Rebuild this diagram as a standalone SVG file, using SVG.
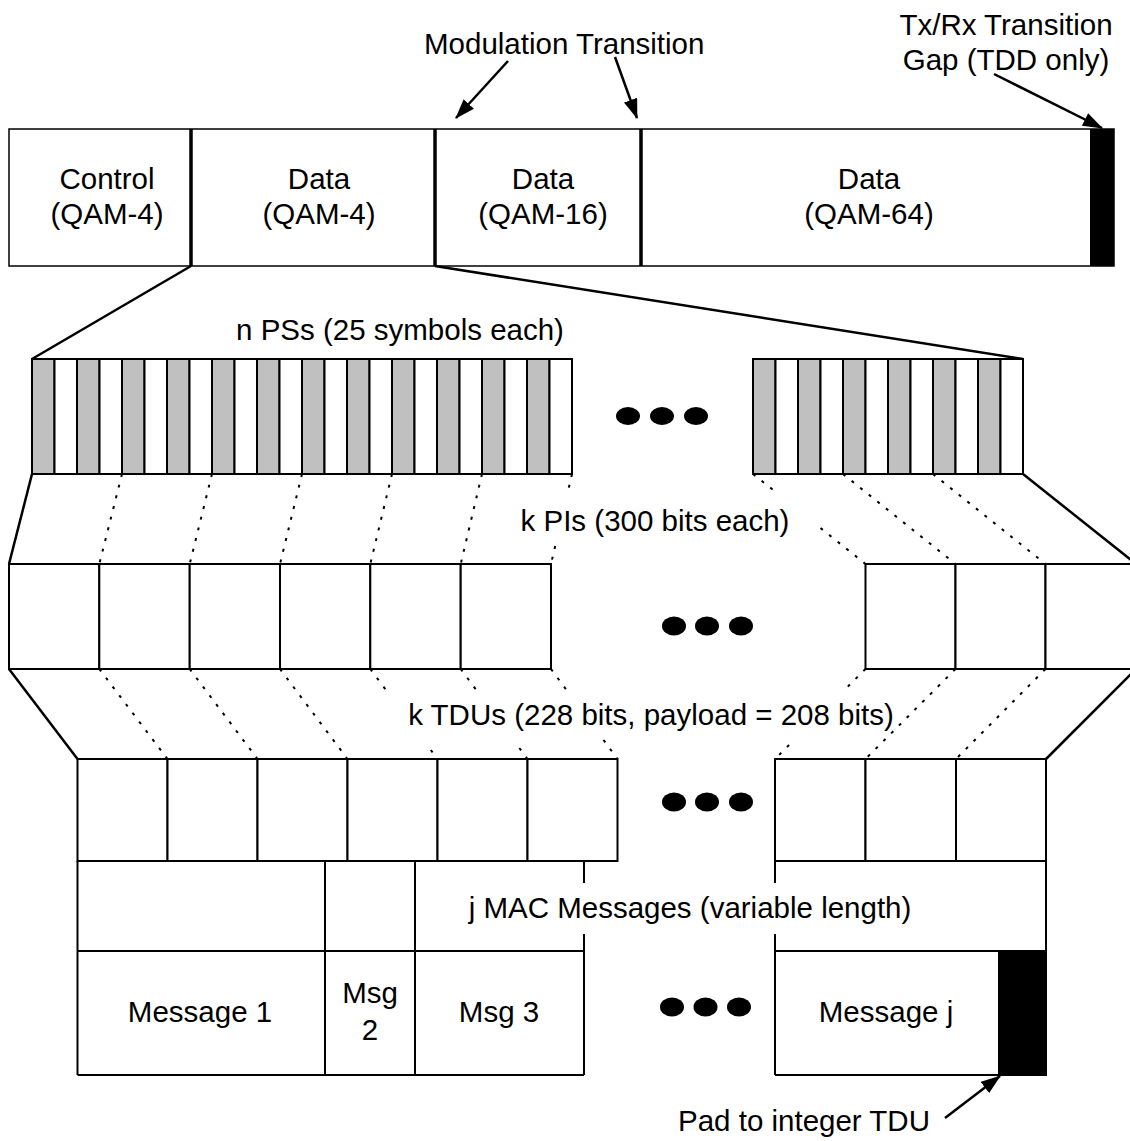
<svg xmlns="http://www.w3.org/2000/svg" width="1130" height="1141" viewBox="0 0 1130 1141">
<style>
  .t { font-family: "Liberation Sans", Arial, sans-serif; font-size: 29.5px; fill: #000; }
  .m { text-anchor: middle; }
  .box { fill: #fff; stroke: #000; stroke-width: 2; }
  .bar { fill: #fff; stroke: #000; stroke-width: 1.5; }
  .g { fill: #c0c0c0; stroke: #000; stroke-width: 2; }
  .w { fill: #fff; stroke: #000; stroke-width: 2; }
  .thick { stroke: #000; stroke-width: 3.5; }
  .ln { stroke: #000; stroke-width: 2; fill: none; }
  .sol { stroke: #000; stroke-width: 2.5; fill: none; }
  .dot { stroke: #000; stroke-width: 2; stroke-dasharray: 3 8; fill: none; }
  .arr { stroke: #000; stroke-width: 2.5; fill: none; marker-end: url(#ah); }
  .blk { fill: #000; }
</style>
<defs>
  <marker id="ah" markerUnits="userSpaceOnUse" markerWidth="20" markerHeight="14" refX="19" refY="7" orient="auto">
    <path d="M0,0 L20,7 L0,14 z" fill="#000"/>
  </marker>
</defs>
<rect width="1130" height="1141" fill="#fff"/>

<!-- Top frame -->
<g id="frame">
  <rect class="bar" x="9" y="129" width="1105" height="137"/>
  <line class="thick" x1="191" y1="129" x2="191" y2="266"/>
  <line class="thick" x1="435" y1="129" x2="435" y2="266"/>
  <line class="thick" x1="641" y1="129" x2="641" y2="266"/>
  <rect class="blk" x="1090" y="129" width="24" height="137"/>
</g>
<g id="control">
  <text class="t m" x="107" y="189">Control</text>
  <text class="t m" x="107" y="224">(QAM-4)</text>
</g>
<g id="data4">
  <text class="t m" x="319" y="189">Data</text>
  <text class="t m" x="319" y="224">(QAM-4)</text>
</g>
<g id="data16">
  <text class="t m" x="543" y="189">Data</text>
  <text class="t m" x="543" y="224">(QAM-16)</text>
</g>
<g id="data64">
  <text class="t m" x="869" y="189">Data</text>
  <text class="t m" x="869" y="224">(QAM-64)</text>
</g>
<g id="label-modulation">
  <text class="t" x="424" y="54">Modulation Transition</text>
</g>
<g id="label-gap">
  <text class="t m" x="1006" y="35">Tx/Rx Transition</text>
  <text class="t m" x="1006" y="70">Gap (TDD only)</text>
</g>

<!-- PS row -->
<g id="ps-left">
  <rect class="g" x="32" y="359" width="22.5" height="115"/>
  <rect class="w" x="54.5" y="359" width="22.5" height="115"/>
  <rect class="g" x="77" y="359" width="22.5" height="115"/>
  <rect class="w" x="99.5" y="359" width="22.5" height="115"/>
  <rect class="g" x="122" y="359" width="22.5" height="115"/>
  <rect class="w" x="144.5" y="359" width="22.5" height="115"/>
  <rect class="g" x="167" y="359" width="22.5" height="115"/>
  <rect class="w" x="189.5" y="359" width="22.5" height="115"/>
  <rect class="g" x="212" y="359" width="22.5" height="115"/>
  <rect class="w" x="234.5" y="359" width="22.5" height="115"/>
  <rect class="g" x="257" y="359" width="22.5" height="115"/>
  <rect class="w" x="279.5" y="359" width="22.5" height="115"/>
  <rect class="g" x="302" y="359" width="22.5" height="115"/>
  <rect class="w" x="324.5" y="359" width="22.5" height="115"/>
  <rect class="g" x="347" y="359" width="22.5" height="115"/>
  <rect class="w" x="369.5" y="359" width="22.5" height="115"/>
  <rect class="g" x="392" y="359" width="22.5" height="115"/>
  <rect class="w" x="414.5" y="359" width="22.5" height="115"/>
  <rect class="g" x="437" y="359" width="22.5" height="115"/>
  <rect class="w" x="459.5" y="359" width="22.5" height="115"/>
  <rect class="g" x="482" y="359" width="22.5" height="115"/>
  <rect class="w" x="504.5" y="359" width="22.5" height="115"/>
  <rect class="g" x="527" y="359" width="22.5" height="115"/>
  <rect class="w" x="549.5" y="359" width="22.5" height="115"/>
</g>
<g id="ps-right">
  <rect class="g" x="753" y="359" width="22.5" height="115"/>
  <rect class="w" x="775.5" y="359" width="22.5" height="115"/>
  <rect class="g" x="798" y="359" width="22.5" height="115"/>
  <rect class="w" x="820.5" y="359" width="22.5" height="115"/>
  <rect class="g" x="843" y="359" width="22.5" height="115"/>
  <rect class="w" x="865.5" y="359" width="22.5" height="115"/>
  <rect class="g" x="888" y="359" width="22.5" height="115"/>
  <rect class="w" x="910.5" y="359" width="22.5" height="115"/>
  <rect class="g" x="933" y="359" width="22.5" height="115"/>
  <rect class="w" x="955.5" y="359" width="22.5" height="115"/>
  <rect class="g" x="978" y="359" width="22.5" height="115"/>
  <rect class="w" x="1000.5" y="359" width="22.5" height="115"/>
</g>
<g id="ps-dots">
  <ellipse class="blk" cx="628" cy="416" rx="12" ry="9"/>
  <ellipse class="blk" cx="662" cy="416" rx="12" ry="9"/>
  <ellipse class="blk" cx="696" cy="416" rx="12" ry="9"/>
</g>
<g id="label-ps">
  <text class="t m" x="400" y="340">n PSs (25 symbols each)</text>
</g>

<!-- PI row -->
<g id="pi-left">
  <rect class="box" x="9" y="564" width="90.3" height="105"/>
  <rect class="box" x="99.3" y="564" width="90.4" height="105"/>
  <rect class="box" x="189.7" y="564" width="90.3" height="105"/>
  <rect class="box" x="280" y="564" width="90.3" height="105"/>
  <rect class="box" x="370.3" y="564" width="90.4" height="105"/>
  <rect class="box" x="460.7" y="564" width="90.3" height="105"/>
</g>
<g id="pi-right">
  <rect class="box" x="865.5" y="564" width="90" height="105"/>
  <rect class="box" x="955.5" y="564" width="90" height="105"/>
  <rect class="box" x="1045.5" y="564" width="90.5" height="105"/>
</g>
<g id="pi-dots">
  <ellipse class="blk" cx="674" cy="626" rx="12" ry="9.5"/>
  <ellipse class="blk" cx="707" cy="626" rx="12" ry="9.5"/>
  <ellipse class="blk" cx="741" cy="626" rx="12" ry="9.5"/>
</g>
<g id="label-pi">
  <text class="t m" x="655" y="531">k PIs (300 bits each)</text>
</g>

<!-- TDU row -->
<g id="tdu-left">
  <rect class="box" x="77.5" y="759" width="90" height="102"/>
  <rect class="box" x="167.5" y="759" width="90" height="102"/>
  <rect class="box" x="257.5" y="759" width="90" height="102"/>
  <rect class="box" x="347.5" y="759" width="90" height="102"/>
  <rect class="box" x="437.5" y="759" width="90" height="102"/>
  <rect class="box" x="527.5" y="759" width="90" height="102"/>
</g>
<g id="tdu-right">
  <rect class="box" x="775" y="759" width="90.5" height="102"/>
  <rect class="box" x="865.5" y="759" width="90.5" height="102"/>
  <rect class="box" x="956" y="759" width="90" height="102"/>
</g>
<g id="tdu-dots">
  <ellipse class="blk" cx="674" cy="802" rx="12" ry="9.5"/>
  <ellipse class="blk" cx="707" cy="802" rx="12" ry="9.5"/>
  <ellipse class="blk" cx="741" cy="802" rx="12" ry="9.5"/>
</g>
<g id="label-tdu">
  <text class="t m" x="651" y="725">k TDUs (228 bits, payload = 208 bits)</text>
</g>

<!-- MAC messages -->
<g id="mac-messages">
  <line class="ln" x1="77.5" y1="861" x2="77.5" y2="1075"/>
  <line class="ln" x1="77.5" y1="951" x2="584" y2="951"/>
  <line class="ln" x1="77.5" y1="1075" x2="584" y2="1075"/>
  <line class="ln" x1="325" y1="861" x2="325" y2="1075"/>
  <line class="ln" x1="415" y1="861" x2="415" y2="1075"/>
  <line class="ln" x1="584" y1="861" x2="584" y2="883"/>
  <line class="ln" x1="584" y1="934" x2="584" y2="1075"/>
  <line class="ln" x1="775" y1="861" x2="775" y2="883"/>
  <line class="ln" x1="775" y1="934" x2="775" y2="1075"/>
  <line class="ln" x1="775" y1="951" x2="1046" y2="951"/>
  <line class="ln" x1="775" y1="1075" x2="998" y2="1075"/>
  <line class="ln" x1="1046" y1="861" x2="1046" y2="1075"/>
  <text class="t m" x="690" y="918">j MAC Messages (variable length)</text>
</g>
<g id="msg1">
  <text class="t m" x="200" y="1022">Message 1</text>
</g>
<g id="msg2">
  <text class="t m" x="370" y="1003">Msg</text>
  <text class="t m" x="370" y="1040">2</text>
</g>
<g id="msg3">
  <text class="t m" x="499" y="1022">Msg 3</text>
</g>
<g id="msg-dots">
  <ellipse class="blk" cx="672" cy="1007" rx="12" ry="9.5"/>
  <ellipse class="blk" cx="705.5" cy="1007" rx="12" ry="9.5"/>
  <ellipse class="blk" cx="739" cy="1007" rx="12" ry="9.5"/>
</g>
<g id="msgj">
  <text class="t m" x="886" y="1022">Message j</text>
</g>
<g id="pad">
  <rect class="blk" x="998" y="951" width="49" height="125"/>
</g>
<g id="label-pad">
  <text class="t" x="678" y="1131">Pad to integer TDU</text>
</g>

<!-- Connectors -->
<g id="connectors">
  <line class="arr" x1="508" y1="61" x2="456" y2="118"/>
  <line class="arr" x1="615" y1="57" x2="637" y2="118"/>
  <line class="arr" x1="994" y1="74" x2="1102" y2="128"/>
  <line class="arr" x1="945" y1="1118" x2="1000" y2="1076"/>

  <line class="sol" x1="191" y1="266" x2="32" y2="359"/>
  <line class="sol" x1="435" y1="266" x2="1023" y2="359"/>

  <line class="sol" x1="32" y1="474" x2="9" y2="564"/>
  <line class="sol" x1="1023" y1="474" x2="1136" y2="564"/>
  <line class="dot" x1="122" y1="474" x2="99.3" y2="564"/>
  <line class="dot" x1="212" y1="474" x2="189.7" y2="564"/>
  <line class="dot" x1="302" y1="474" x2="280" y2="564"/>
  <line class="dot" x1="392" y1="474" x2="370.3" y2="564"/>
  <line class="dot" x1="482" y1="474" x2="460.7" y2="564"/>
  <line class="dot" x1="572" y1="474" x2="567.8" y2="492"/>
  <line class="dot" x1="555.2" y1="546" x2="551" y2="564"/>
  <line class="dot" x1="753" y1="474" x2="777" y2="493"/>
  <line class="dot" x1="820.5" y1="528" x2="865.5" y2="564"/>
  <line class="dot" x1="843" y1="474" x2="955.5" y2="564"/>
  <line class="dot" x1="933" y1="474" x2="1045.5" y2="564"/>

  <line class="sol" x1="9" y1="669" x2="77.5" y2="759"/>
  <line class="sol" x1="1136" y1="669" x2="1046" y2="759"/>
  <line class="dot" x1="99.3" y1="669" x2="167.5" y2="759"/>
  <line class="dot" x1="189.7" y1="669" x2="257.5" y2="759"/>
  <line class="dot" x1="280" y1="669" x2="347.5" y2="759"/>
  <line class="dot" x1="370.3" y1="669" x2="389.7" y2="695"/>
  <line class="dot" x1="430.8" y1="750" x2="437.5" y2="759"/>
  <line class="dot" x1="460.7" y1="669" x2="476.3" y2="690"/>
  <line class="dot" x1="519.3" y1="748" x2="527.5" y2="759"/>
  <line class="dot" x1="551" y1="669" x2="566.5" y2="690"/>
  <line class="dot" x1="603.5" y1="740" x2="617.5" y2="759"/>
  <line class="dot" x1="865.5" y1="669" x2="844.4" y2="690"/>
  <line class="dot" x1="789.1" y1="745" x2="775" y2="759"/>
  <line class="dot" x1="955.5" y1="669" x2="865.5" y2="759"/>
  <line class="dot" x1="1045.5" y1="669" x2="956" y2="759"/>
</g>
</svg>
